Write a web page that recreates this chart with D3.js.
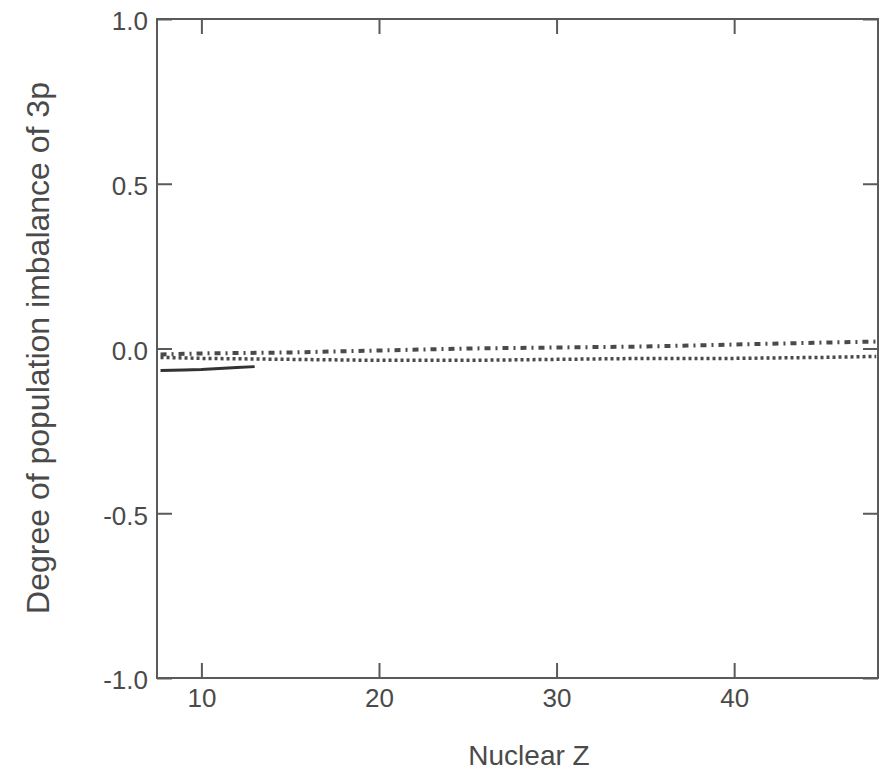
<!DOCTYPE html>
<html>
<head>
<meta charset="utf-8">
<script src="https://cdn.jsdelivr.net/npm/d3@7"></script>
<style>
  html, body { margin: 0; padding: 0; background: #ffffff; }
  svg { display: block; }
</style>
</head>
<body>
<svg id="chart" width="880" height="772"></svg>
<script>
// ---- data ----
const xTicks = [10, 20, 30, 40];
const yTicks = [1.0, 0.5, 0.0, -0.5, -1.0];
const yTickLabels = ["1.0", "0.5", "0.0", "-0.5", "-1.0"];

const dashDotZ = [7.7, 10, 15, 20, 25, 30, 35, 40, 45, 48];
const dashDotV = [-0.018, -0.015, -0.012, -0.006, 0.0, 0.003, 0.006, 0.012, 0.018, 0.021];

const dottedZ = [7.7, 10, 15, 20, 25, 30, 35, 40, 45, 48];
const dottedV = [-0.027, -0.030, -0.033, -0.036, -0.036, -0.033, -0.030, -0.030, -0.027, -0.024];

const solidZ = [7.7, 9, 10, 11, 12, 13];
const solidV = [-0.067, -0.065, -0.064, -0.061, -0.058, -0.055];

const xLabel = "Nuclear Z";
const yLabel = "Degree of population imbalance of 3p";

// ---- layout ----
const svg = d3.select("#chart");
const L = 157, R = 878, T = 19, B = 678;
const x = d3.scaleLinear().domain([7.5, 48.1]).range([L, R]);
const y = d3.scaleLinear().domain([-1, 1]).range([B, T]);
const axisColor = "#5a5a5a";
const textColor = "#4a4a4a";
const tickLen = 15;
const fontFam = "'Liberation Sans', Arial, sans-serif";

// frame
svg.append("rect")
  .attr("x", L).attr("y", T).attr("width", R - L).attr("height", B - T)
  .attr("fill", "none").attr("stroke", axisColor).attr("stroke-width", 2);

// axes with inward ticks
const gBottom = svg.append("g").attr("transform", `translate(0,${B})`)
  .call(d3.axisBottom(x).tickValues(xTicks).tickSizeInner(-tickLen).tickSizeOuter(0).tickPadding(11));
const gTop = svg.append("g").attr("transform", `translate(0,${T})`)
  .call(d3.axisTop(x).tickValues(xTicks).tickSizeInner(-tickLen).tickSizeOuter(0).tickFormat(""));
const gLeft = svg.append("g").attr("transform", `translate(${L},0)`)
  .call(d3.axisLeft(y).tickValues(yTicks).tickSizeInner(-tickLen).tickSizeOuter(0)
    .tickPadding(9).tickFormat((d, i) => yTickLabels[i]));
const gRight = svg.append("g").attr("transform", `translate(${R},0)`)
  .call(d3.axisRight(y).tickValues(yTicks).tickSizeInner(-tickLen).tickSizeOuter(0).tickFormat(""));

[gBottom, gTop, gLeft, gRight].forEach(g => {
  g.select(".domain").remove();
  g.selectAll(".tick line").attr("stroke", axisColor).attr("stroke-width", 2);
  g.selectAll(".tick text")
    .attr("fill", textColor)
    .style("font-family", fontFam)
    .style("font-size", "26px");
});
gLeft.selectAll(".tick text").attr("dy", "0.42em");

// axis titles
svg.append("text")
  .attr("x", 529).attr("y", 765)
  .attr("text-anchor", "middle")
  .attr("fill", textColor)
  .style("font-family", fontFam)
  .style("font-size", "28px")
  .text(xLabel);

svg.append("text")
  .attr("transform", `translate(49,${348}) rotate(-90)`)
  .attr("text-anchor", "middle")
  .attr("fill", textColor)
  .style("font-family", fontFam)
  .style("font-size", "32px")
  .text(yLabel);

// series
const line = d3.line().x(d => x(d[0])).y(d => y(d[1]));
const zip = (a, b) => a.map((v, i) => [v, b[i]]);

svg.append("path")
  .datum(zip(dottedZ, dottedV))
  .attr("d", line)
  .attr("fill", "none").attr("stroke", "#4a4a4a").attr("stroke-width", 3.5)
  .attr("stroke-dasharray", "3,3");

svg.append("path")
  .datum(zip(dashDotZ, dashDotV))
  .attr("d", line)
  .attr("fill", "none").attr("stroke", "#4a4a4a").attr("stroke-width", 4)
  .attr("stroke-dasharray", "6,5,2,5");

svg.append("path")
  .datum(zip(solidZ, solidV))
  .attr("d", line)
  .attr("fill", "none").attr("stroke", "#333").attr("stroke-width", 3);
</script>
</body>
</html>
